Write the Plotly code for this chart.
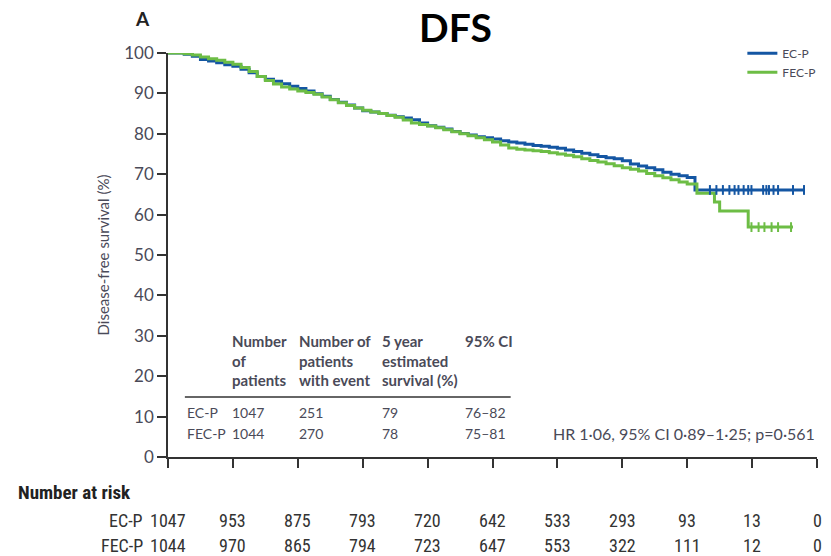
import plotly.graph_objects as go

# ---------------- data ----------------
years = [0, 1, 2, 3, 4, 5, 6, 7, 8, 9, 10]
y_ticks = [0, 10, 20, 30, 40, 50, 60, 70, 80, 90, 100]

ecp_t = [0, 0.125, 0.25, 0.375, 0.5, 0.625, 0.75, 0.875, 1.0, 1.125, 1.25, 1.375, 1.5, 1.625,
         1.75, 1.875, 2.0, 2.125, 2.25, 2.375, 2.5, 2.625, 2.75, 2.875, 3.0, 3.125, 3.25, 3.375,
         3.5, 3.625, 3.75, 3.875, 4.0, 4.125, 4.25, 4.375, 4.5, 4.625, 4.75, 4.875, 5.0, 5.125,
         5.25, 5.375, 5.5, 5.625, 5.75, 5.875, 6.0, 6.125, 6.25, 6.375, 6.5, 6.625, 6.75, 6.875,
         7.0, 7.125, 7.25, 7.375, 7.5, 7.625, 7.75, 7.875, 8.0, 8.12, 9.80]
ecp_s = [100, 100, 99.7, 99.2, 98.4, 98.0, 97.6, 97.1, 96.7, 96.0, 95.1, 94.2, 93.5, 93.0,
         92.4, 91.8, 91.2, 90.6, 89.9, 89.3, 88.5, 87.8, 87.1, 86.4, 85.7, 85.4, 85.0, 84.6,
         84.2, 83.9, 83.5, 82.7, 82.0, 81.6, 81.2, 80.6, 80.1, 79.7, 79.3, 79.0, 78.7, 78.3,
         78.0, 77.7, 77.4, 77.1, 76.9, 76.7, 76.4, 76.0, 75.6, 75.2, 74.8, 74.4, 74.1, 73.8,
         73.3, 72.5, 72.0, 71.6, 71.1, 70.5, 70.0, 69.6, 69.2, 66.1, 66.1]

fecp_t = [0, 0.125, 0.25, 0.375, 0.5, 0.625, 0.75, 0.875, 1.0, 1.125, 1.25, 1.375, 1.5, 1.625,
          1.75, 1.875, 2.0, 2.125, 2.25, 2.375, 2.5, 2.625, 2.75, 2.875, 3.0, 3.125, 3.25, 3.375,
          3.5, 3.625, 3.75, 3.875, 4.0, 4.125, 4.25, 4.375, 4.5, 4.625, 4.75, 4.875, 5.0, 5.125,
          5.25, 5.375, 5.5, 5.625, 5.75, 5.875, 6.0, 6.125, 6.25, 6.375, 6.5, 6.625, 6.75, 6.875,
          7.0, 7.125, 7.25, 7.375, 7.5, 7.625, 7.75, 7.875, 8.0, 8.15, 8.42, 8.50, 8.94, 9.63]
fecp_s = [100, 100, 99.8, 99.5, 99.0, 98.6, 98.2, 97.7, 97.2, 96.4, 95.4, 94.2, 93.2, 92.3,
          91.6, 91.1, 90.6, 90.2, 89.8, 89.1, 88.4, 87.7, 87.0, 86.4, 85.8, 85.4, 85.0, 84.5,
          84.1, 83.4, 82.7, 82.3, 81.9, 81.5, 81.0, 80.5, 80.0, 79.5, 79.0, 78.5, 78.0, 77.2,
          76.5, 76.2, 76.0, 75.8, 75.6, 75.3, 75.0, 74.7, 74.3, 73.8, 73.4, 73.0, 72.6, 72.1,
          71.6, 71.2, 70.8, 70.2, 69.6, 69.1, 68.6, 68.1, 67.6, 65.3, 63.1, 60.9, 56.9, 56.9]

ecp_cens_t = [8.35, 8.45, 8.55, 8.65, 8.73, 8.79, 8.87, 8.94, 8.99, 9.17, 9.22, 9.26, 9.33, 9.40, 9.63, 9.80]
ecp_cens_s = [66.1] * len(ecp_cens_t)
fecp_cens_t = [8.99, 9.10, 9.19, 9.30, 9.40, 9.60]
fecp_cens_s = [56.9] * len(fecp_cens_t)

groups = ["EC-P", "FEC-P"]
n_patients = ["1047", "1044"]
n_events = ["251", "270"]
surv5 = ["79", "78"]
ci95 = ["76–82", "75–81"]

risk_ecp = [1047, 953, 875, 793, 720, 642, 533, 293, 93, 13, 0]
risk_fecp = [1044, 970, 865, 794, 723, 647, 553, 322, 111, 12, 0]

# ---------------- styles ----------------
BLUE = "#1456a3"
GREEN = "#6dbd45"
AX = "#333333"
TXT = "#4a4a58"
F = "Lato, Liberation Sans, sans-serif"
FN = "Liberation Sans Narrow, Roboto Condensed, Arial Narrow, Liberation Sans, sans-serif"

fig = go.Figure()
fig.add_trace(go.Scatter(x=ecp_t, y=ecp_s, mode="lines", line=dict(color=BLUE, width=3, shape="hv"),
                         name="EC-P", cliponaxis=False))
fig.add_trace(go.Scatter(x=fecp_t, y=fecp_s, mode="lines", line=dict(color=GREEN, width=3, shape="hv"),
                         name="FEC-P", cliponaxis=False))
fig.add_trace(go.Scatter(x=ecp_cens_t, y=ecp_cens_s, mode="markers", showlegend=False,
                         marker=dict(symbol="line-ns", size=7, line=dict(color=BLUE, width=2)), cliponaxis=False))
fig.add_trace(go.Scatter(x=fecp_cens_t, y=fecp_cens_s, mode="markers", showlegend=False,
                         marker=dict(symbol="line-ns", size=7, line=dict(color=GREEN, width=2)), cliponaxis=False))

ann = []
# title and panel letter
ann.append(dict(text="<b>DFS</b>", x=0.4426, y=1.064, xref="paper", yref="paper", showarrow=False,
                xanchor="center", yanchor="middle",
                font=dict(family="Lato, Open Sans, sans-serif", size=39, color="black")))
ann.append(dict(text="<b>A</b>", x=-0.0398, y=1.0866, xref="paper", yref="paper", showarrow=False,
                xanchor="center", yanchor="middle",
                font=dict(family="Lato, sans-serif", size=19, color="#222")))
# y title
ann.append(dict(text="Disease-free survival (%)", x=-0.0995, y=0.5, xref="paper", yref="paper",
                xanchor="center", yanchor="middle",
                textangle=-90, showarrow=False, font=dict(family=F, size=15, color=TXT)))

# inner table
hdr = [("Number<br>of<br>patients", 0.95), ("Number of<br>patients<br>with event", 1.99),
       ("5 year<br>estimated<br>survival (%)", 3.26), ("95% CI", 4.55)]
for h, xx in hdr:
    ann.append(dict(text="<b>" + h + "</b>", x=xx, y=31.4, xref="x", yref="y", xanchor="left", yanchor="top",
                    align="left", showarrow=False, font=dict(family=F, size=15, color=TXT)))
row_y = [10.9, 5.9]
for i, g in enumerate(groups):
    for txt, xx in [(g, 0.26), (n_patients[i], 0.95), (n_events[i], 1.99), (surv5[i], 3.26), (ci95[i], 4.55)]:
        ann.append(dict(text=txt, x=xx, y=row_y[i], xref="x", yref="y", xanchor="left", yanchor="middle",
                        showarrow=False, font=dict(family=F, size=14, color=TXT)))
ann.append(dict(text="HR 1·06, 95% CI 0·89–1·25; p=0·561", x=10, y=5.8, xref="x", yref="y",
                xanchor="right", yanchor="middle", showarrow=False, font=dict(family=F, size=16, color=TXT)))

# number at risk
ann.append(dict(text="<b>Number at risk</b>", x=-0.234, y=-0.089, xref="paper", yref="paper",
                xanchor="left", yanchor="middle", showarrow=False, font=dict(family=FN, size=19, color="#222")))
for lab, vals, yy in [("EC-P", risk_ecp, -0.156), ("FEC-P", risk_fecp, -0.22)]:
    ann.append(dict(text=lab, x=-0.035, y=yy, xref="paper", yref="paper", xanchor="right", yanchor="middle",
                    showarrow=False, font=dict(family=FN, size=18, color="#333")))
    for xv, v in zip(years, vals):
        ann.append(dict(text=str(v), x=xv, y=yy, xref="x", yref="paper", xanchor="center", yanchor="middle",
                        showarrow=False, font=dict(family=FN, size=18, color="#333")))

fig.update_layout(
    width=831, height=556,
    margin=dict(l=168, r=10, t=53, b=99),
    paper_bgcolor="white", plot_bgcolor="white",
    annotations=ann,
    shapes=[dict(type="line", xref="x", yref="y", x0=0.26, x1=5.28, y0=14.85, y1=14.85,
                 line=dict(color=AX, width=1.5))],
    legend=dict(x=0.885, y=1.035, xanchor="left", yanchor="top", bgcolor="rgba(0,0,0,0)",
                font=dict(family=F, size=12, color=TXT), tracegroupgap=0),
    xaxis=dict(range=[0, 10], tickvals=years, showticklabels=False, ticks="outside", ticklen=9,
               tickwidth=1.5, tickcolor=AX, showline=True, linecolor=AX, linewidth=1.5,
               showgrid=False, zeroline=False),
    yaxis=dict(range=[0, 100], tickvals=y_ticks, ticks="outside", ticklen=9, tickwidth=1.5,
               tickcolor=AX, showline=True, linecolor=AX, linewidth=1.5, showgrid=False,
               zeroline=False, tickfont=dict(family=F, size=17, color=TXT)),
)

fig.write_html("out.html")
